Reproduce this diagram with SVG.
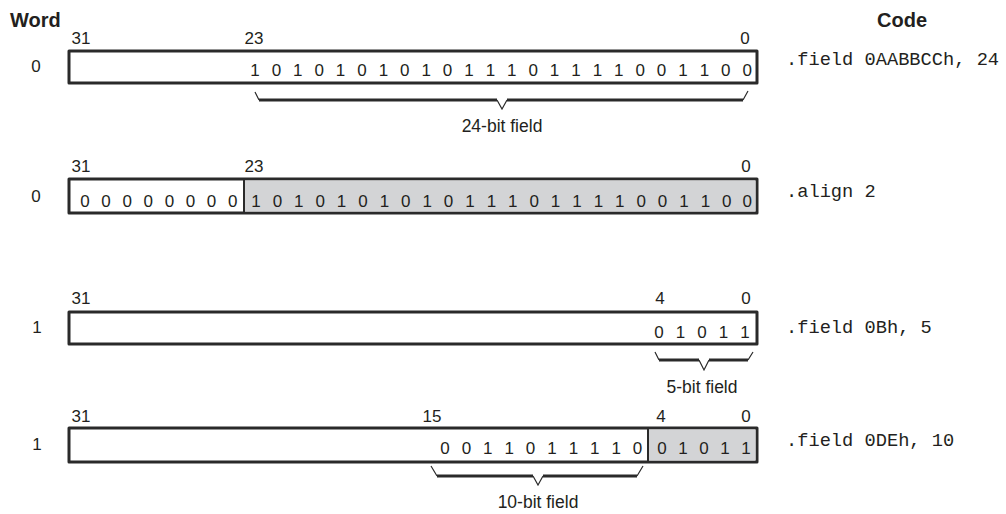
<svg xmlns="http://www.w3.org/2000/svg" width="1006" height="514" viewBox="0 0 1006 514">
<style>
.box{fill:#fff;stroke:#2a2a2a;stroke-width:3;stroke-linejoin:round}
.gray{fill:#d3d4d6;stroke:none}
.div{stroke:#2a2a2a;stroke-width:2}
.t{font-family:"Liberation Sans",Arial,sans-serif;fill:#231f20}
.hd{font-size:20px;font-weight:bold}
.lbl{font-size:17px;text-anchor:middle}
.bit{font-size:17px;text-anchor:middle}
.fld{font-size:17.5px;text-anchor:middle}
.code{font-family:"Liberation Mono","Courier New",monospace;font-size:18.7px;fill:#231f20}
.bthin{fill:none;stroke:#2a2a2a;stroke-width:1.2}
.bthick{fill:none;stroke:#2a2a2a;stroke-width:3}
</style>
<text class="t hd" x="10" y="27">Word</text>
<text class="t hd" x="877" y="27">Code</text>

<g id="row1">
<rect class="box" x="69" y="51" width="688" height="32"/>
<text class="t lbl" x="36" y="72">0</text>
<text class="t lbl" x="81" y="44">31</text>
<text class="t lbl" x="254" y="44">23</text>
<text class="t lbl" x="745" y="44">0</text>
<text class="t bit" y="76" x="255 265.7 276.4 287.1 297.8 308.5 319.2 329.9 340.6 351.3 362 372.7 383.4 394.1 404.8 415.5 426.2 436.9 447.6 458.3 469 479.7 490.4 501.1 511.8 522.5 533.2 543.9 554.6 565.3 576 586.7 597.4 608.1 618.8 629.5 640.2 650.9 661.6 672.3 683 693.7 704.4 715.1 725.8 736.5 747.2">1 0 1 0 1 0 1 0 1 0 1 1 1 0 1 1 1 1 0 0 1 1 0 0</text>
<text class="code" x="786" y="65">.field 0AABBCCh, 24</text>
<text class="t fld" x="502" y="132">24-bit field</text>
</g>

<g id="row2">
<rect class="box" x="69" y="179" width="688" height="34"/>
<rect class="gray" x="244" y="180.5" width="511.5" height="31"/>
<line class="div" x1="244" y1="179" x2="244" y2="213"/>
<text class="t lbl" x="36" y="202">0</text>
<text class="t lbl" x="81" y="172">31</text>
<text class="t lbl" x="254" y="172">23</text>
<text class="t lbl" x="746" y="172">0</text>
<text class="t bit" y="207" x="85 95.55 106.1 116.65 127.2 137.75 148.3 158.85 169.4 179.95 190.5 201.05 211.6 222.15 232.7">0 0 0 0 0 0 0 0</text>
<text class="t bit" y="207" x="256 266.7 277.4 288.1 298.8 309.5 320.2 330.9 341.6 352.3 363 373.7 384.4 395.1 405.8 416.5 427.2 437.9 448.6 459.3 470 480.7 491.4 502.1 512.8 523.5 534.2 544.9 555.6 566.3 577 587.7 598.4 609.1 619.8 630.5 641.2 651.9 662.6 673.3 684 694.7 705.4 716.1 726.8 737.5 747.2">1 0 1 0 1 0 1 0 1 0 1 1 1 0 1 1 1 1 0 0 1 1 0 0</text>
<text class="code" x="786" y="197">.align 2</text>
</g>

<g id="row3">
<rect class="box" x="69" y="312" width="688" height="32"/>
<text class="t lbl" x="37" y="333">1</text>
<text class="t lbl" x="81" y="304">31</text>
<text class="t lbl" x="660" y="304">4</text>
<text class="t lbl" x="746" y="304">0</text>
<text class="t bit" y="338" x="659 669.75 680.5 691.25 702 712.75 723.5 734.25 745">0 1 0 1 1</text>
<text class="code" x="786" y="333">.field 0Bh, 5</text>
<text class="t fld" x="702" y="393">5-bit field</text>
</g>

<g id="row4">
<rect class="box" x="69" y="428" width="688" height="34"/>
<rect class="gray" x="648" y="429.5" width="107.5" height="31"/>
<line class="div" x1="648" y1="428" x2="648" y2="462"/>
<text class="t lbl" x="37" y="450">1</text>
<text class="t lbl" x="81" y="422">31</text>
<text class="t lbl" x="432" y="422">15</text>
<text class="t lbl" x="661" y="422">4</text>
<text class="t lbl" x="746" y="422">0</text>
<text class="t bit" y="454" x="445 455.7 466.4 477.1 487.8 498.5 509.2 519.9 530.6 541.3 552 562.7 573.4 584.1 594.8 605.5 616.2 626.9 637.6">0 0 1 1 0 1 1 1 1 0</text>
<text class="t bit" y="454" x="662 672.5 683 693.5 704 714.5 725 735.5 746">0 1 0 1 1</text>
<text class="code" x="786" y="446">.field 0DEh, 10</text>
<text class="t fld" x="538" y="508">10-bit field</text>
</g>

<g id="braces">
<path class="bthin" d="M255 92 L259 100 M497 100 L502 109 L507 100 M743 100 L748 91"/>
<path class="bthick" d="M259 100 H497 M507 100 H743"/>
<path class="bthin" d="M655 352 L659 360 M699 360 L704 370 L709 360 M748 360 L753 352"/>
<path class="bthick" d="M659 360 H699 M709 360 H748"/>
<path class="bthin" d="M431 466 L437 476 M533 476 L538 485 L543 476 M637 476 L643 466"/>
<path class="bthick" d="M437 476 H533 M543 476 H637"/>
</g>
</svg>
